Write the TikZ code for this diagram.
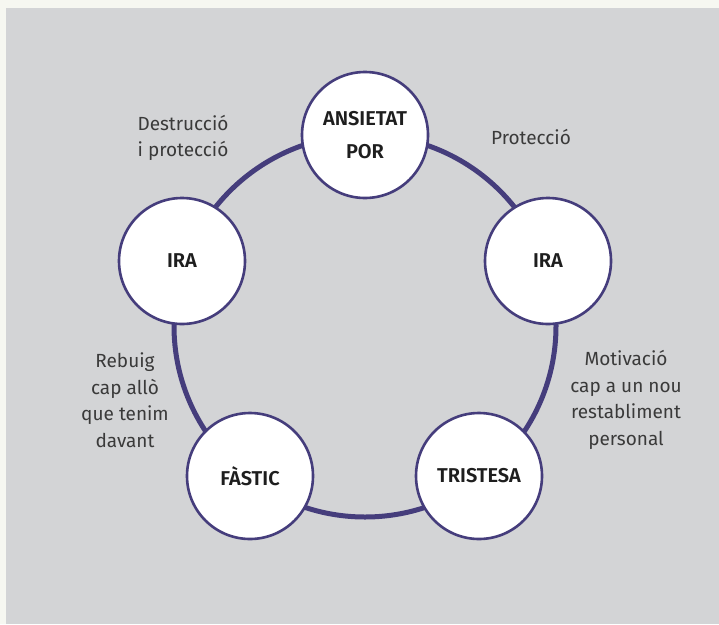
\documentclass[tikz,border=0pt]{standalone}
\usepackage{fontspec}
\setmainfont{Fira Sans}[BoldFont={Fira Sans SemiBold}]
\definecolor{cream}{HTML}{F6F7F1}
\definecolor{panel}{HTML}{D3D4D6}
\definecolor{ringc}{HTML}{453D7C}
\definecolor{labc}{HTML}{3A3A3A}
\definecolor{nodec}{HTML}{1E1E1E}
\tikzset{
  emo/.style={circle, draw=ringc, line width=2.6pt, fill=white, minimum size=126pt, inner sep=0pt,
    align=center, text=nodec, font=\bfseries\fontsize{20}{33}\selectfont},
  lab/.style={align=center, text=labc, font=\fontsize{19}{26.5}\selectfont, inner sep=0pt},
}
\begin{document}
\begin{tikzpicture}[x=1pt,y=-1pt]
\useasboundingbox (0,0) rectangle (719,624);
\fill[cream] (0,0) rectangle (719,624);
\fill[panel] (6,8) rectangle (719,624);
\coordinate (c) at (365,326);
\draw[ringc, line width=5pt] (c) circle [radius=191pt];
\node[emo] (ans) at (365,135) {ANSIETAT\\POR};
\node[emo] (irar) at (548,261) {IRA};
\node[emo] (iral) at (182,261) {IRA};
\node[emo] (tri) at (479,476) {TRISTESA};
\node[emo] (fas) at (250,476) {FÀSTIC};
\node[lab] (l1) at (183,138) {Destrucció\\i protecció};
\node[lab] (l2) at (531,137) {Protecció};
\node[lab] (l3) at (626,400) {Motivació\\cap a un nou\\restabliment\\personal};
\node[lab] (l4) at (125,400) {Rebuig\\cap allò\\que tenim\\davant};
\end{tikzpicture}
\end{document}
